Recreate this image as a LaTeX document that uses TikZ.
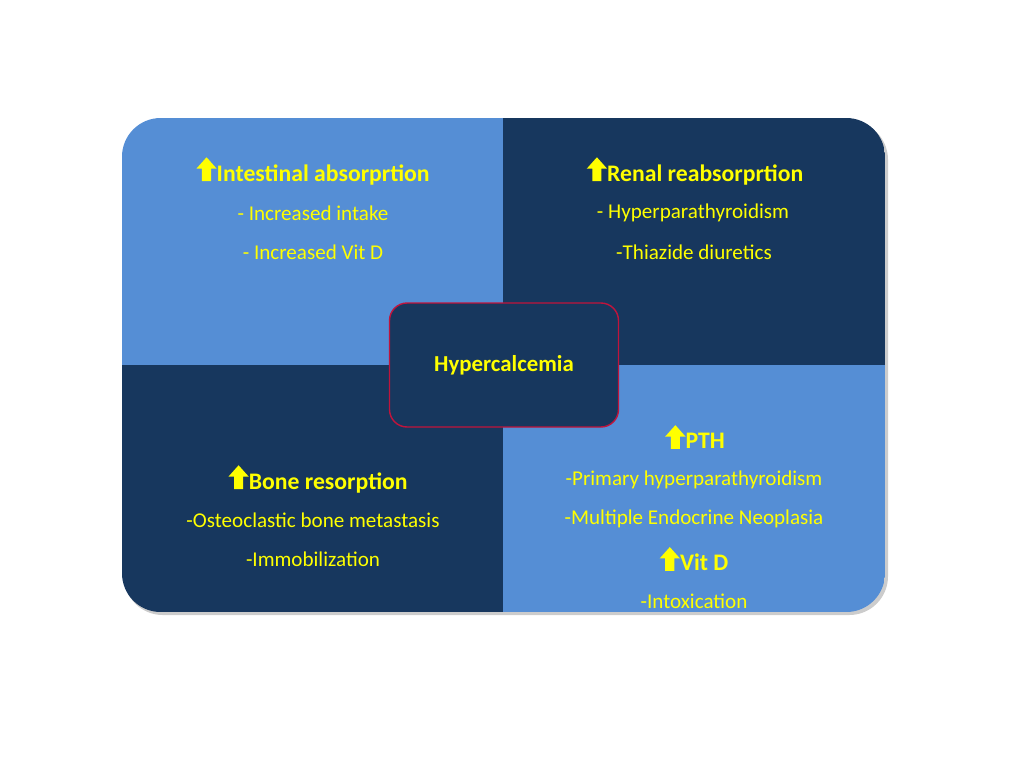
\documentclass[tikz,border=0pt]{standalone}
\usepackage{fontspec}
\setmainfont{Carlito}
\definecolor{lightq}{HTML}{558ED5}
\definecolor{darkq}{HTML}{17375E}
\definecolor{txtyellow}{HTML}{FFFF00}
\definecolor{boxred}{HTML}{C0143C}
\newcommand{\uparw}{\tikz[baseline=0pt,x=1pt,y=1pt]\fill[txtyellow] (-2.6,0)--(-2.6,7)--(-5.8,7)--(0,13.5)--(5.8,7)--(2.6,7)--(2.6,0)--cycle;}
\begin{document}
\begin{tikzpicture}[x=0.02cm,y=-0.02cm]
  \tikzstyle{title}=[text=txtyellow,font=\fontsize{13.5}{16}\selectfont\bfseries,inner sep=0pt];
  \tikzstyle{item}=[text=txtyellow,font=\fontsize{12}{14}\selectfont,inner sep=0pt];
  \tikzstyle{centre}=[draw=boxred,fill=darkq,rounded corners=10pt,line width=0.8pt,minimum width=229*0.02cm,minimum height=124*0.02cm,text=txtyellow,font=\fontsize{13}{16}\selectfont\bfseries];
  \useasboundingbox (0,0) rectangle (1024,768);

  % panel with four quarters
  \fill[black!20,rounded corners=22pt] (124,121) rectangle (888,615);
  \begin{scope}
    \clip[rounded corners=22pt] (122,118) rectangle (885,612);
    \fill[lightq] (122,118) rectangle (503,365);
    \fill[darkq] (503,118) rectangle (885,365);
    \fill[darkq] (122,365) rectangle (503,612);
    \fill[lightq] (503,365) rectangle (885,612);
  \end{scope}

  \node[centre] (hyper) at (504,365) {Hypercalcemia};

  % top left
  \node[title] (intest) at (313,171) {\uparw Intestinal absorprtion};
  \node[item] (intake) at (313,213) {- Increased intake};
  \node[item] (vitd1) at (313,252) {- Increased Vit D};

  % top right
  \node[title] (renal) at (695,171) {\uparw Renal reabsorprtion};
  \node[item] (hpt) at (693,213) {- Hyperparathyroidism};
  \node[item] (thiaz) at (694,252) {-Thiazide diuretics};

  % bottom left
  \node[title] (bone) at (318,479) {\uparw Bone resorption};
  \node[item] (meta) at (313,520) {-Osteoclastic bone metastasis};
  \node[item] (immob) at (313,559) {-Immobilization};

  % bottom right
  \node[title] (pth) at (695,437) {\uparw PTH};
  \node[item] (primary) at (694,480) {-Primary hyperparathyroidism};
  \node[item] (men) at (694,519) {-Multiple Endocrine Neoplasia};
  \node[title] (vitd2) at (694,559) {\uparw Vit D};
  \node[item] (intox) at (694,601) {-Intoxication};
\end{tikzpicture}
\end{document}
